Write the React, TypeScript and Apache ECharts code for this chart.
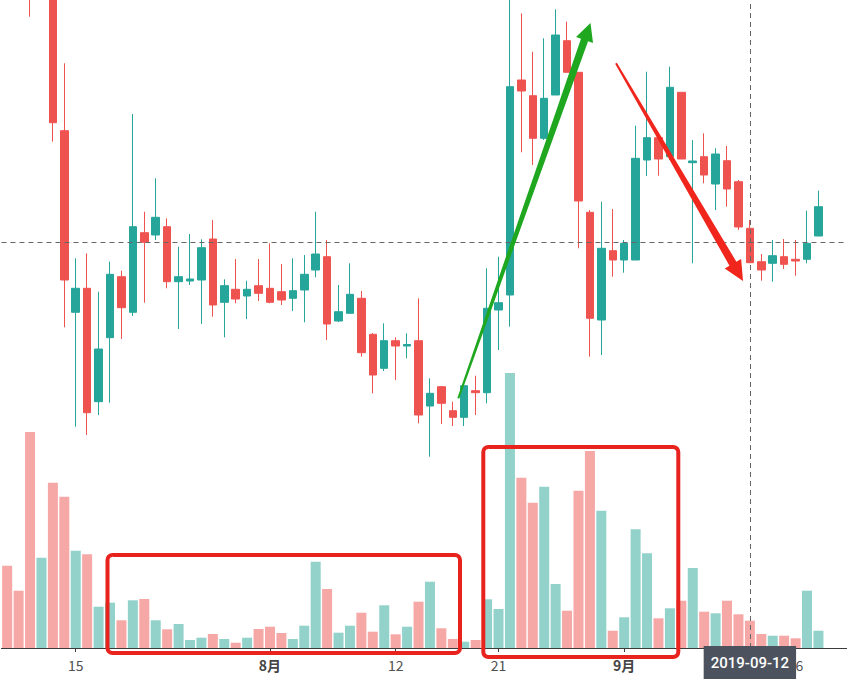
import React, { useEffect, useRef } from "react";
import * as echarts from "echarts";

// Trading days (calendar days, 7 per week)
const dates: string[] = [
  "2019-07-09", "2019-07-10", "2019-07-11", "2019-07-12", "2019-07-13", "2019-07-14", "2019-07-15",
  "2019-07-16", "2019-07-17", "2019-07-18", "2019-07-19", "2019-07-20", "2019-07-21", "2019-07-22",
  "2019-07-23", "2019-07-24", "2019-07-25", "2019-07-26", "2019-07-27", "2019-07-28", "2019-07-29",
  "2019-07-30", "2019-07-31",
  "2019-08-01", "2019-08-02", "2019-08-03", "2019-08-04", "2019-08-05", "2019-08-06", "2019-08-07",
  "2019-08-08", "2019-08-09", "2019-08-10", "2019-08-11", "2019-08-12", "2019-08-13", "2019-08-14",
  "2019-08-15", "2019-08-16", "2019-08-17", "2019-08-18", "2019-08-19", "2019-08-20", "2019-08-21",
  "2019-08-22", "2019-08-23", "2019-08-24", "2019-08-25", "2019-08-26", "2019-08-27", "2019-08-28",
  "2019-08-29", "2019-08-30", "2019-08-31",
  "2019-09-01", "2019-09-02", "2019-09-03", "2019-09-04", "2019-09-05", "2019-09-06", "2019-09-07",
  "2019-09-08", "2019-09-09", "2019-09-10", "2019-09-11", "2019-09-12", "2019-09-13", "2019-09-14",
  "2019-09-15", "2019-09-16", "2019-09-17", "2019-09-18", "2019-09-19", "2019-09-20",
];

// [open, close, low, high]
const ohlc: number[][] = [
  [134.5, 130.2, 128.6, 136.0],
  [131.0, 128.8, 127.4, 132.5],
  [129.8, 127.2, 124.33, 130.5],
  [127.4, 129.5, 126.6, 131.2],
  [129.9, 113.73, 111.83, 131.0],
  [112.93, 98.0, 93.27, 119.67],
  [94.77, 97.17, 83.33, 100.17],
  [97.17, 84.73, 82.5, 100.67],
  [85.83, 91.1, 84.5, 96.83],
  [92.23, 98.57, 85.73, 99.83],
  [98.33, 95.23, 92.1, 98.93],
  [94.77, 103.33, 94.4, 114.6],
  [102.73, 101.77, 95.73, 104.83],
  [102.5, 104.27, 102.0, 108.17],
  [103.33, 97.83, 97.17, 104.17],
  [97.83, 98.33, 93.1, 101.33],
  [97.9, 98.1, 97.5, 102.6],
  [98.0, 101.23, 93.6, 102.07],
  [102.1, 95.5, 94.33, 104.0],
  [95.77, 97.43, 92.27, 98.07],
  [97.07, 96.1, 95.67, 100.1],
  [96.4, 97.07, 94.1, 97.93],
  [97.43, 96.67, 95.9, 100.1],
  [97.17, 95.77, 95.67, 101.67],
  [96.83, 96.0, 95.5, 99.6],
  [96.17, 96.93, 94.9, 100.17],
  [97.0, 98.57, 93.77, 100.5],
  [99.0, 100.6, 98.27, 104.83],
  [100.33, 93.6, 92.0, 102.0],
  [93.9, 94.83, 93.8, 97.5],
  [94.67, 96.57, 94.67, 99.67],
  [96.17, 90.73, 90.33, 96.9],
  [92.57, 88.5, 86.67, 92.7],
  [89.17, 91.93, 88.9, 93.67],
  [91.93, 91.4, 88.0, 92.27],
  [91.4, 91.55, 90.17, 92.67],
  [91.93, 84.5, 83.67, 96.17],
  [85.4, 86.67, 80.33, 88.17],
  [87.33, 85.67, 83.6, 87.4],
  [84.93, 84.27, 83.4, 85.83],
  [84.27, 87.43, 83.4, 87.43],
  [86.93, 86.73, 84.5, 88.43],
  [86.73, 95.17, 85.67, 99.17],
  [95.0, 95.73, 91.0, 100.33],
  [96.5, 117.33, 93.33, 126.5],
  [118.0, 116.9, 110.77, 124.67],
  [116.43, 112.17, 109.5, 120.83],
  [112.17, 116.17, 112.0, 122.17],
  [116.5, 122.5, 116.5, 125.07],
  [121.93, 118.77, 118.77, 123.83],
  [118.77, 105.9, 101.17, 118.77],
  [104.77, 94.17, 90.33, 105.0],
  [94.0, 101.17, 90.5, 105.83],
  [100.93, 100.0, 98.33, 105.1],
  [100.0, 101.67, 98.73, 102.0],
  [100.0, 110.17, 100.0, 113.43],
  [110.0, 112.23, 108.4, 118.83],
  [112.23, 110.1, 108.43, 112.23],
  [110.33, 117.27, 110.0, 119.33],
  [116.77, 110.1, 110.1, 116.77],
  [109.73, 109.9, 99.67, 112.0],
  [110.33, 108.5, 107.67, 112.67],
  [107.6, 110.6, 105.0, 111.17],
  [109.93, 107.1, 105.33, 111.4],
  [107.83, 103.3, 103.0, 108.0],
  [103.17, 99.73, 99.7, 104.0],
  [99.83, 99.0, 97.93, 100.6],
  [99.67, 100.43, 97.83, 102.0],
  [100.33, 99.57, 99.1, 102.1],
  [100.07, 99.9, 98.43, 102.0],
  [100.07, 101.67, 99.67, 104.93],
  [102.4, 105.33, 102.4, 106.93],
];

const volumes: number[] = [
  82.3, 57.3, 216, 90.3, 165.3, 151.3, 97.3, 93.7, 41.3, 45.3, 27.7, 47.7, 49, 27.7, 18.7, 24,
  8, 10.3, 14, 9, 5.3, 10.3, 19, 21.3, 15, 9, 22.3, 86.3, 59, 15.3, 22.3, 35.3, 16.3, 42.7, 13.7,
  21.3, 46.3, 66.3, 19.7, 9, 6.3, 8, 48.7, 39, 275, 170.3, 145.3, 161.3, 64, 37.3, 157.3, 197,
  137.3, 17.3, 30.7, 118.7, 94.7, 29.7, 39.7, 47.3, 80, 36.3, 34.7, 47.3, 33.7, 27.3, 14, 12.3,
  12.3, 9.7, 57.3, 17.3,
];

const tickLabels: Record<string, string> = {
  "2019-07-15": "15",
  "2019-08-01": "8月",
  "2019-08-12": "12",
  "2019-08-21": "21",
  "2019-09-01": "9月",
  "2019-09-16": "16",
};
const monthTicks = ["2019-08-01", "2019-09-01"];

const crosshairDate = "2019-09-12";
const crosshairPrice = 101.77;

const UP = "#26a69a";
const DOWN = "#ef5350";
const UP_VOL = "#92d2cb";
const DOWN_VOL = "#f6a8a7";

function arrowPoints(
  x1: number, y1: number, x2: number, y2: number,
  w1: number, w2: number, headLen: number, headHalf: number
): number[][] {
  const dx = x2 - x1, dy = y2 - y1;
  const len = Math.hypot(dx, dy);
  const ux = dx / len, uy = dy / len;
  const nx = -uy, ny = ux;
  const bx = x2 - ux * headLen, by = y2 - uy * headLen;
  return [
    [x1 + nx * w1 / 2, y1 + ny * w1 / 2],
    [bx + nx * w2 / 2, by + ny * w2 / 2],
    [bx + nx * headHalf, by + ny * headHalf],
    [x2, y2],
    [bx - nx * headHalf, by - ny * headHalf],
    [bx - nx * w2 / 2, by - ny * w2 / 2],
    [x1 - nx * w1 / 2, y1 - ny * w1 / 2],
  ];
}

export default function App() {
  const ref = useRef<HTMLDivElement>(null);

  useEffect(() => {
    if (!ref.current) return;
    const chart = echarts.init(ref.current, null, { renderer: "svg" });

    const volData = volumes.map((v, i) => ({
      value: v,
      itemStyle: { color: ohlc[i][1] >= ohlc[i][0] ? UP_VOL : DOWN_VOL },
    }));

    const showTick = (_i: number, v: string) => v in tickLabels;

    const option: any = {
      animation: false,
      backgroundColor: "#ffffff",
      textStyle: { fontFamily: "'Noto Sans', 'Noto Sans CJK SC', sans-serif" },
      grid: { left: 1.47, width: 848, top: 0, bottom: 31, containLabel: false },
      xAxis: {
        type: "category",
        data: dates,
        boundaryGap: true,
        axisLine: { lineStyle: { color: "#3a3a3a", width: 1 } },
        axisTick: {
          show: true,
          alignWithLabel: true,
          interval: showTick,
          length: 4,
          lineStyle: { color: "#3a3a3a" },
        },
        axisLabel: {
          interval: showTick,
          margin: 10,
          color: "#505050",
          fontSize: 14,
          fontFamily: "'Noto Sans CJK SC', 'Noto Sans', sans-serif",
          formatter: (v: string) =>
            monthTicks.includes(v) ? `{b|${tickLabels[v]}}` : tickLabels[v] || "",
          rich: {
            b: {
              fontWeight: "bold",
              fontSize: 14,
              color: "#444",
              fontFamily: "'Noto Sans CJK SC', 'Noto Sans', sans-serif",
            },
          },
        },
        splitLine: { show: false },
        axisPointer: {
          show: true,
          type: "line",
          value: crosshairDate,
          status: "show",
          snap: true,
          triggerTooltip: false,
          lineStyle: { color: "#666666", width: 1, type: [5, 4] },
          label: {
            show: true,
            backgroundColor: "#4c525e",
            color: "#ffffff",
            fontSize: 15,
            fontWeight: 500,
            fontFamily: "Roboto, 'Noto Sans', sans-serif",
            padding: [9, 7, 9, 7],
            margin: 0,
            borderRadius: 0,
          },
        },
      },
      yAxis: [
        {
          type: "value",
          min: 61.2,
          max: 126,
          show: true,
          axisLine: { show: false },
          axisTick: { show: false },
          axisLabel: { show: false },
          splitLine: { show: false },
          axisPointer: {
            show: true,
            type: "line",
            value: crosshairPrice,
            status: "show",
            triggerTooltip: false,
            lineStyle: { color: "#666666", width: 1, type: [5, 4] },
            label: { show: false },
          },
        },
        {
          type: "value",
          min: 0,
          max: 648,
          show: false,
          splitLine: { show: false },
        },
      ],
      series: [
        {
          name: "成交量",
          type: "bar",
          yAxisIndex: 1,
          data: volData,
          barWidth: 10,
          z: 1,
          silent: true,
        },
        {
          name: "K线",
          type: "candlestick",
          data: ohlc,
          barWidth: 8,
          z: 2,
          clip: true,
          itemStyle: {
            color: UP,
            color0: DOWN,
            borderColor: UP,
            borderColor0: DOWN,
            borderWidth: 1,
          },
        },
      ],
      graphic: [
        {
          type: "rect",
          z: 100,
          shape: { x: 107.5, y: 555, width: 352.5, height: 98, r: 5 },
          style: { fill: "none", stroke: "#e8231e", lineWidth: 4 },
        },
        {
          type: "rect",
          z: 100,
          shape: { x: 483.3, y: 447, width: 195, height: 210, r: 5 },
          style: { fill: "none", stroke: "#e8231e", lineWidth: 4 },
        },
        {
          type: "polygon",
          z: 100,
          shape: { points: arrowPoints(458.3, 398.3, 590.5, 23, 2, 7.5, 18, 9) },
          style: { fill: "#1fa71f" },
        },
        {
          type: "polygon",
          z: 100,
          shape: { points: arrowPoints(616, 63.3, 743, 281, 2, 8, 20, 9.5) },
          style: { fill: "#f0251c" },
        },
      ],
    };

    chart.setOption(option);
    return () => chart.dispose();
  }, []);

  return (
    <div
      ref={ref}
      style={{
        position: "fixed",
        left: 0,
        top: 0,
        width: 847,
        height: 679,
        background: "#ffffff",
      }}
    />
  );
}
